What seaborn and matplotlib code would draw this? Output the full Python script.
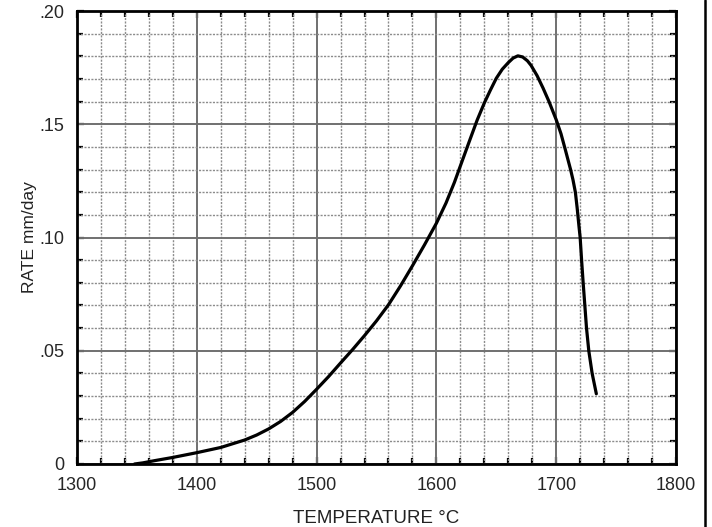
import matplotlib
matplotlib.use("Agg")
import matplotlib.pyplot as plt
from matplotlib.lines import Line2D
import seaborn as sns
import numpy as np
import pandas as pd

# Data
temperature = [1348, 1355, 1365, 1380, 1400, 1420, 1440, 1450, 1460, 1470,
               1480, 1490, 1500, 1510, 1520, 1530, 1540, 1550, 1560, 1570,
               1580, 1590, 1600, 1608, 1615, 1622, 1628, 1634, 1640, 1645,
               1650, 1655, 1660, 1664, 1668, 1672, 1676, 1679, 1684, 1689,
               1694, 1700, 1704, 1707.5, 1710, 1712, 1714, 1716, 1717.5,
               1719, 1720, 1721.2, 1722.5, 1725.3, 1727.2, 1730, 1733.5]
rate = [0.0, 0.0005, 0.0015, 0.0029, 0.0050, 0.0073, 0.0106, 0.0128, 0.0155,
        0.0188, 0.0228, 0.0276, 0.0330, 0.0386, 0.0446, 0.0505, 0.0567,
        0.0632, 0.0703, 0.0786, 0.0875, 0.0967, 0.1063, 0.1152, 0.1243,
        0.1345, 0.1432, 0.1518, 0.1594, 0.1650, 0.1703, 0.1743, 0.1772,
        0.1792, 0.1802, 0.1797, 0.1780, 0.1760, 0.1715, 0.1660, 0.1600,
        0.1520, 0.1458, 0.1390, 0.1340, 0.1300, 0.1255, 0.1200, 0.1130,
        0.1050, 0.1000, 0.0900, 0.0800, 0.0600, 0.0500, 0.0400, 0.0310]

x_ticks = [1300, 1400, 1500, 1600, 1700, 1800]
x_tick_labels = ["1300", "1400", "1500", "1600", "1700", "1800"]
y_ticks = [0, 0.05, 0.10, 0.15, 0.20]
y_tick_labels = ["0", ".05", ".10", ".15", ".20"]
x_label = "TEMPERATURE °C"
y_label = "RATE mm/day"

sns.set_style("ticks")
plt.rcParams["font.family"] = ["Liberation Sans", "DejaVu Sans"]

df = pd.DataFrame({"T": temperature, "R": rate})

fig = plt.figure(figsize=(7.12, 5.27), dpi=100)
ax = fig.add_axes([77 / 712, 1 - 464 / 527, (676 - 77) / 712, (464 - 11) / 527])

# grid
minor_x = np.arange(1300, 1801, 20)
minor_y = np.arange(0, 0.2001, 0.01)
for xv in minor_x:
    if xv % 100 == 0:
        ax.axvline(xv, color="#707070", lw=1.4, zorder=1)
    else:
        ax.axvline(xv, color="#8c8c8c", lw=1.0, ls=(0, (1.5, 1)), zorder=1)
for i, yv in enumerate(minor_y):
    if i % 5 == 0:
        ax.axhline(yv, color="#707070", lw=1.4, zorder=1)
    else:
        ax.axhline(yv, color="#8c8c8c", lw=1.0, ls=(0, (1.5, 1)), zorder=1)

sns.lineplot(data=df, x="T", y="R", color="black", lw=2.3, ax=ax, zorder=3,
             sort=False, estimator=None)

ax.set_xlim(1300, 1800)
ax.set_ylim(0, 0.20)
ax.set_xticks(x_ticks)
ax.set_xticklabels(x_tick_labels)
ax.set_yticks(y_ticks)
ax.set_yticklabels(y_tick_labels)
ax.set_xticks(minor_x, minor=True)
ax.set_yticks(minor_y, minor=True)
ax.tick_params(which="both", direction="in", top=True, right=True,
               color="black", width=1.6)
ax.tick_params(which="major", length=5, labelsize=13, pad=9)
ax.tick_params(which="minor", length=4)
for s in ax.spines.values():
    s.set_linewidth(2)
    s.set_color("black")
    s.set_zorder(4)

ax.set_xlabel(x_label, fontsize=13.5, labelpad=12, color="#222222")
ax.set_ylabel(y_label, fontsize=12.5, labelpad=2, color="#222222")

# page border line at right
fig.add_artist(Line2D([705 / 712, 705 / 712], [0, 1], color="black", lw=1.8,
                      transform=fig.transFigure))

fig.savefig("out.png", dpi=100)
